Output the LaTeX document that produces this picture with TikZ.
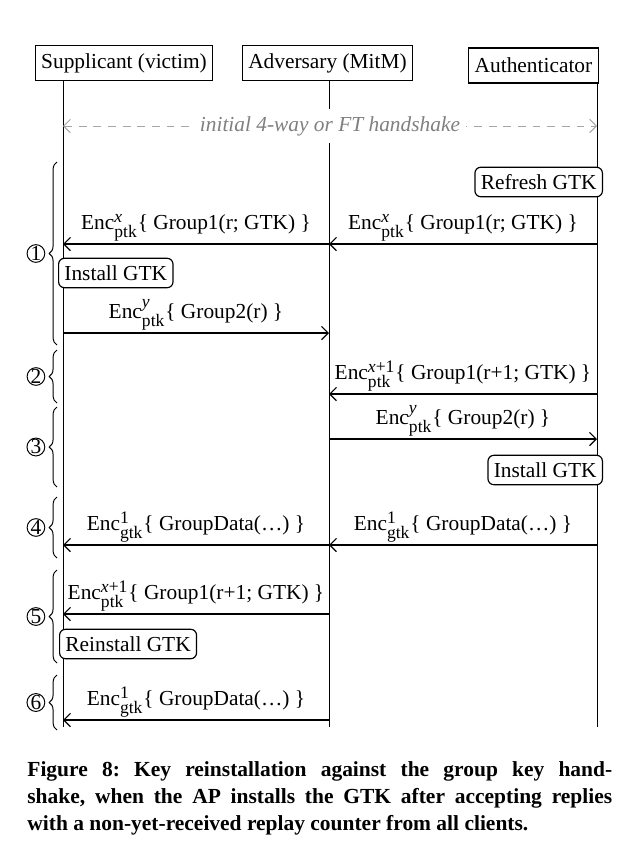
\documentclass[tikz,border=0pt,11pt]{standalone}
\usepackage{amsmath}
\usepackage{fontspec}
\setmainfont{Liberation Serif}
\usetikzlibrary{arrows.meta,decorations.pathreplacing}
\tikzset{
  lifeln/.style={line width=0.5pt},
  msgln/.style={-{Straight Barb[length=1.2mm,width=2.4mm]}, line width=0.6pt},
  hsln/.style={{Straight Barb[length=1.2mm,width=2.4mm]}-{Straight Barb[length=1.2mm,width=2.4mm]},
    dash pattern=on 4pt off 3.5pt, line width=0.5pt, gray!70},
  party/.style={draw, fill=white, line width=0.6pt, minimum height=0.63cm, inner xsep=3pt},
  action/.style={draw, fill=white, rounded corners=3pt, line width=0.6pt, minimum height=0.53cm, inner xsep=3pt},
  msglbl/.style={midway, above=0pt, inner sep=1pt},
  bracegrp/.style={decorate, decoration={brace, amplitude=4pt}, line width=0.5pt},
  stepno/.style={circle, draw, line width=0.5pt, inner sep=0pt, minimum size=0.3cm, left=6pt},
}
\newcommand{\enc}[3]{$\text{Enc}^{\text{\footnotesize #1}}_{\text{\footnotesize #2}}$\{ #3 \}}

\begin{document}
\begin{tikzpicture}[x=0.018cm, y=-0.018cm]
  \useasboundingbox (0,0) rectangle (626,855);
  % where the lifelines run
  \coordinate (supL) at (63,0);
  \coordinate (advL) at (329,0);
  \coordinate (authL) at (597,0);
  \coordinate (btm) at (0,727);
  \node[party] (sup) at (124,63) {Supplicant (victim)};
  \node[party] (adv) at (327.5,63) {Adversary (MitM)};
  \node[party] (auth) at (533.5,65.5) {Authenticator};
  \draw[lifeln] (supL |- sup.south) -- (supL |- btm);
  \draw[lifeln] (advL |- adv.south) -- (advL |- btm);
  \draw[lifeln] (authL |- auth.south) -- (authL |- btm);
  % initial handshake (text hides the middle lifeline)
  \coordinate (hs) at (0,126);
  \draw[hsln] (supL |- hs) -- (authL |- hs)
    node[midway, fill=white, inner xsep=3pt, text=gray, font=\itshape] (hstxt) {initial 4-way or FT handshake};
  % messages, top to bottom
  \coordinate (m1) at (0,244);
  \draw[msgln] (authL |- m1) -- (advL |- m1)
    node[msglbl] (l1b) {\enc{\textit{x}}{ptk}{Group1(r; GTK)}};
  \draw[msgln] (advL |- m1) -- (supL |- m1)
    node[msglbl] (l1a) {\enc{\textit{x}}{ptk}{Group1(r; GTK)}};
  \coordinate (m2) at (0,333);
  \draw[msgln] (supL |- m2) -- (advL |- m2)
    node[msglbl] (l2) {\enc{\textit{y}}{ptk}{Group2(r)}};
  \coordinate (m3) at (0,394);
  \draw[msgln] (authL |- m3) -- (advL |- m3)
    node[msglbl] (l3) {\enc{\textit{x}+1}{ptk}{Group1(r+1; GTK)}};
  \coordinate (m4) at (0,439);
  \draw[msgln] (advL |- m4) -- (authL |- m4)
    node[msglbl] (l4) {\enc{\textit{y}}{ptk}{Group2(r)}};
  \coordinate (m5) at (0,545);
  \draw[msgln] (authL |- m5) -- (advL |- m5)
    node[msglbl] (l5b) {\enc{1}{gtk}{GroupData(\dots)}};
  \draw[msgln] (advL |- m5) -- (supL |- m5)
    node[msglbl] (l5a) {\enc{1}{gtk}{GroupData(\dots)}};
  \coordinate (m6) at (0,614);
  \draw[msgln] (advL |- m6) -- (supL |- m6)
    node[msglbl] (l6) {\enc{\textit{x}+1}{ptk}{Group1(r+1; GTK)}};
  \coordinate (m7) at (0,720);
  \draw[msgln] (advL |- m7) -- (supL |- m7)
    node[msglbl] (l7) {\enc{1}{gtk}{GroupData(\dots)}};
  % key actions on the lifelines
  \node[action, anchor=east] (refresh) at (603,182) {Refresh GTK};
  \node[action, anchor=west] (instS) at (58,273) {Install GTK};
  \node[action, anchor=east] (instA) at (603,470) {Install GTK};
  \node[action, anchor=west] (reinst) at (59,644) {Reinstall GTK};
  % stages
  \draw[bracegrp] (57,345) -- node[stepno] (s1) {1} (57,162);
  \draw[bracegrp] (57,403) -- node[stepno] (s2) {2} (57,350);
  \draw[bracegrp] (57,487) -- node[stepno] (s3) {3} (57,407);
  \draw[bracegrp] (57,558) -- node[stepno] (s4) {4} (57,497);
  \draw[bracegrp] (57,663) -- node[stepno] (s5) {5} (57,570);
  \draw[bracegrp] (57,730) -- node[stepno] (s6) {6} (57,675);
  % caption
  \node[anchor=north west, inner sep=0pt, text width=10.53cm, align=justify,
    font=\bfseries\fontsize{11}{13.8}\selectfont\frenchspacing] (cap) at (27,761)
    {Figure 8: Key reinstallation against the group key hand-\linebreak
     shake, when the AP installs the GTK after accepting replies\linebreak
     with a non-yet-received replay counter from all clients.};
\end{tikzpicture}
\end{document}
